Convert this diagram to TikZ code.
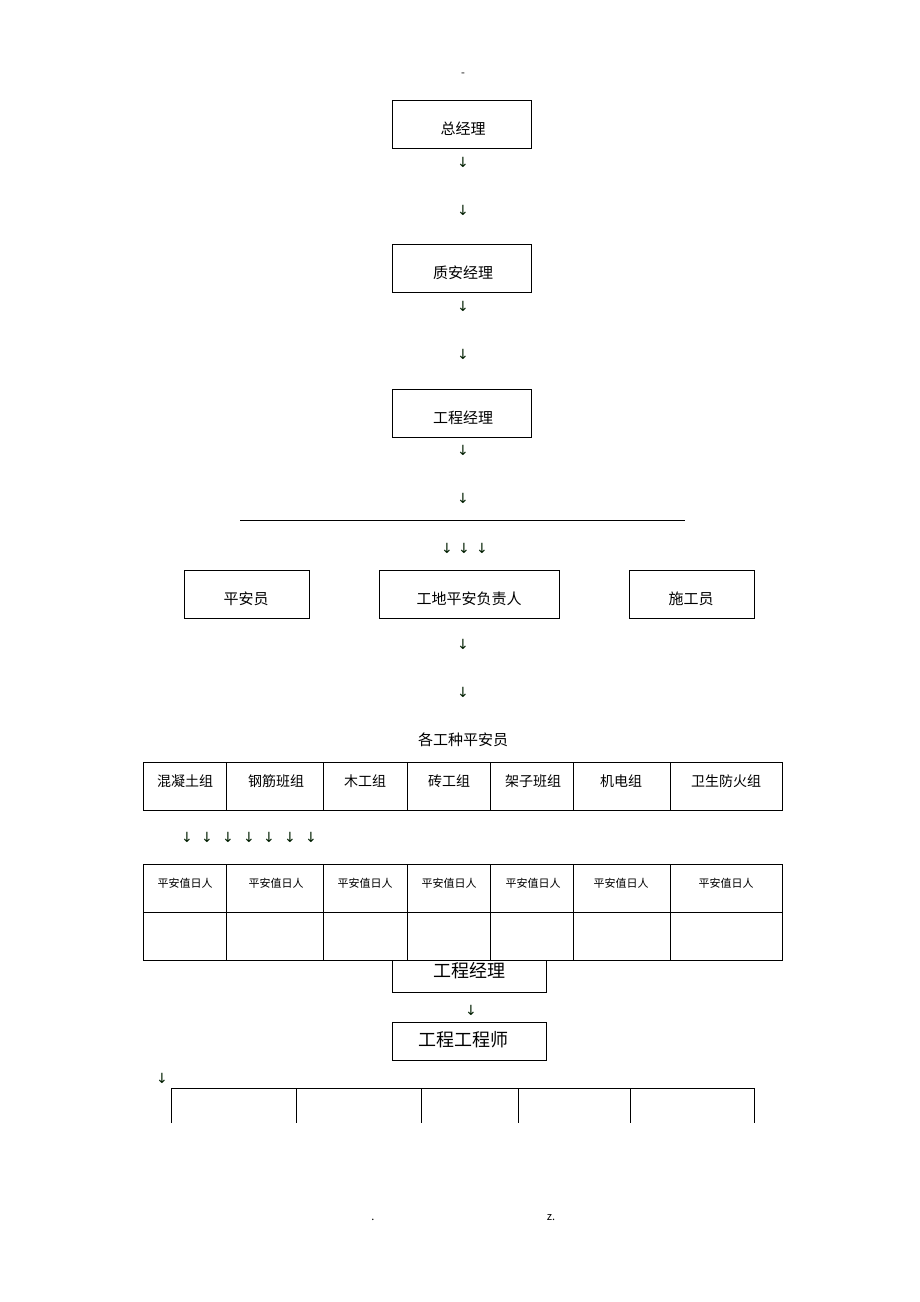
\documentclass[tikz,border=0pt]{standalone}
\usepackage{fontspec}
\setmainfont{Noto Sans CJK SC}
\newfontfamily\arr{DejaVu Sans}
\begin{document}
\begin{tikzpicture}[x=1pt,y=-1pt,
  bx/.style={draw,line width=0.9pt},
  lbl/.style={font=\fontsize{15}{15}\selectfont},
  ar/.style={font=\arr\fontsize{14}{14}\selectfont,text=black!70!green!40!black,inner sep=0pt},
  cell/.style={font=\fontsize{14}{14}\selectfont,inner sep=0pt},
  small/.style={font=\fontsize{11}{11}\selectfont,inner sep=0pt}]
\useasboundingbox[fill=white] (0,0) rectangle (920,1302);
\node[small] (dash) at (463,75) {-};
\draw[bx] (392,100) rectangle (531,148);
\node[lbl] (n1) at (463,129) {总经理};
\node[ar] (a1) at (463,162) {↓};
\node[ar] (a2) at (463,210) {↓};
\draw[bx] (392,244) rectangle (531,292);
\node[lbl] (n2) at (463,273) {质安经理};
\node[ar] (a3) at (463,306) {↓};
\node[ar] (a4) at (463,354) {↓};
\draw[bx] (392,389) rectangle (531,437);
\node[lbl] (n3) at (463,418) {工程经理};
\node[ar] (a5) at (463,450) {↓};
\node[ar] (a6) at (463,498) {↓};
\draw[line width=0.8pt] (240,520) -- (685,520);
\foreach \x in {447,464,482} \node[ar] at (\x,548) {↓};
\draw[bx] (184,570) rectangle (309,618);
\node[lbl] (p1) at (246,599) {平安员};
\draw[bx] (379,570) rectangle (559,618);
\node[lbl] (p2) at (469,599) {工地平安负责人};
\draw[bx] (629,570) rectangle (754,618);
\node[lbl] (p3) at (691,599) {施工员};
\node[ar] (a7) at (463,644) {↓};
\node[ar] (a8) at (463,692) {↓};
\node[lbl] (t) at (463,740) {各工种平安员};
\draw[line width=0.8pt] (143,762) rectangle (782,810);
\draw[line width=0.8pt] (143,864) rectangle (782,960);
\draw[line width=0.8pt] (143,912) -- (782,912);
\foreach \x in {226,323,407,490,573,670} {\draw[line width=0.8pt] (\x,762)--(\x,810); \draw[line width=0.8pt] (\x,864)--(\x,960);}
\foreach \x/\t in {185/混凝土组,276/钢筋班组,365/木工组,449/砖工组,533/架子班组,621/机电组,726/卫生防火组} {
  \node[cell] at (\x,781) {\t};
  \node[small] at (\x,883) {平安值日人};}
\foreach \x in {187,207,228,249,269,290,311} \node[ar] at (\x,837) {↓};
\draw[line width=0.7pt] (392,961) -- (392,992) -- (546,992) -- (546,961);
\node[font=\fontsize{18}{18}\selectfont] (e1) at (469,971) {工程经理};
\node[ar] (a9) at (471,1010) {↓};
\draw[line width=0.7pt] (392,1022) rectangle (546,1060);
\node[font=\fontsize{18}{18}\selectfont] (e2) at (463,1040) {工程工程师};
\node[ar] (a10) at (162,1078) {↓};
\draw[line width=0.8pt] (171,1123) -- (171,1088) -- (754,1088) -- (754,1123);
\foreach \x in {296,421,518,630} \draw[line width=0.8pt] (\x,1088)--(\x,1123);
\node[small] (b1) at (373,1220) {.};
\node[small] (b2) at (551,1218) {z.};
\end{tikzpicture}
\end{document}
